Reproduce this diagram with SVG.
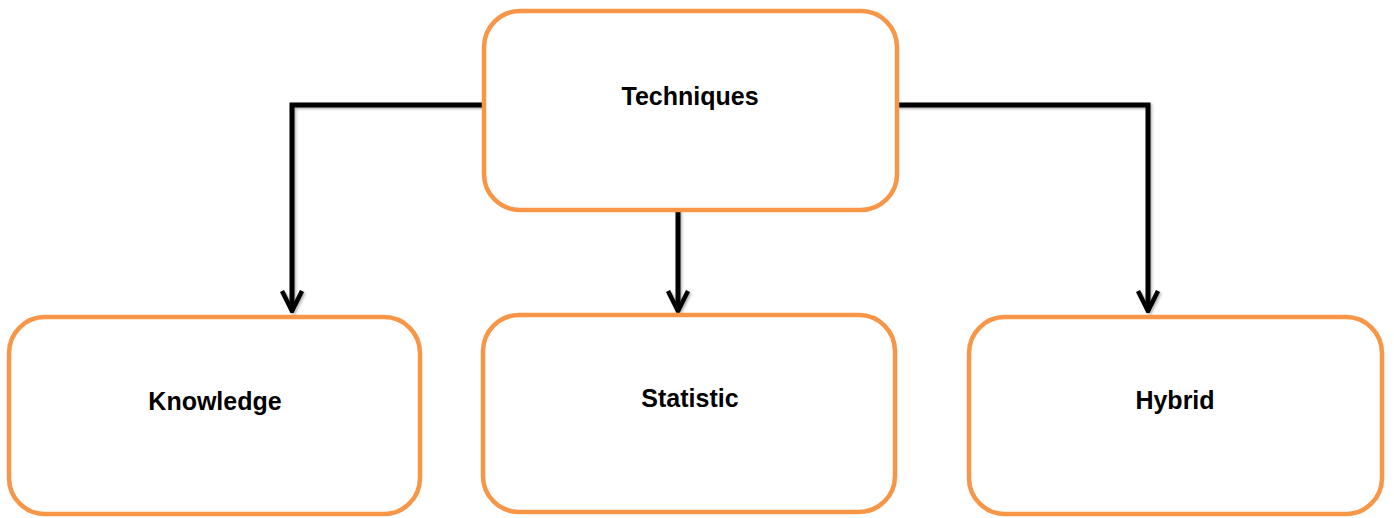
<svg xmlns="http://www.w3.org/2000/svg" width="1394" height="518" viewBox="0 0 1394 518">
  <style>
    .box { fill: #ffffff; stroke: #F79646; stroke-width: 4.5; }
    .label { font-family: "Liberation Sans", Arial, sans-serif; font-weight: bold; font-size: 25px; fill: #000000; text-anchor: middle; }
    .wire { fill: none; stroke: #000000; stroke-width: 5; }
  </style>
  <defs>
    <!-- open chevron arrowhead pointing down, tip at the path end -->
    <marker id="chev" viewBox="-12 -22 24 24" refX="0" refY="0" markerWidth="24" markerHeight="24" markerUnits="userSpaceOnUse" orient="0">
      <path d="M-10,-20 L0,0 L10,-20" fill="none" stroke="#000000" stroke-width="4.5"/>
    </marker>
    <filter id="shade" x="-10%" y="-10%" width="120%" height="120%">
      <feDropShadow dx="1.5" dy="1.5" stdDeviation="1.2" flood-color="#000000" flood-opacity="0.3"/>
    </filter>
  </defs>

  <g id="connectors" filter="url(#shade)">
    <path class="wire" d="M484,105 H292 V311" marker-end="url(#chev)"/>
    <path class="wire" d="M678,210 V311" marker-end="url(#chev)"/>
    <path class="wire" d="M897,105 H1148 V311" marker-end="url(#chev)"/>
  </g>

  <g id="techniques">
    <rect class="box" x="484" y="11" width="413" height="199" rx="36" ry="36"/>
    <text class="label" x="690" y="105">Techniques</text>
  </g>

  <g id="knowledge">
    <rect class="box" x="9" y="317" width="411" height="197" rx="36" ry="36"/>
    <text class="label" x="215" y="410">Knowledge</text>
  </g>

  <g id="statistic">
    <rect class="box" x="483" y="315" width="412" height="197" rx="36" ry="36"/>
    <text class="label" x="690" y="407">Statistic</text>
  </g>

  <g id="hybrid">
    <rect class="box" x="969" y="317" width="413" height="197" rx="36" ry="36"/>
    <text class="label" x="1175" y="409">Hybrid</text>
  </g>
</svg>
